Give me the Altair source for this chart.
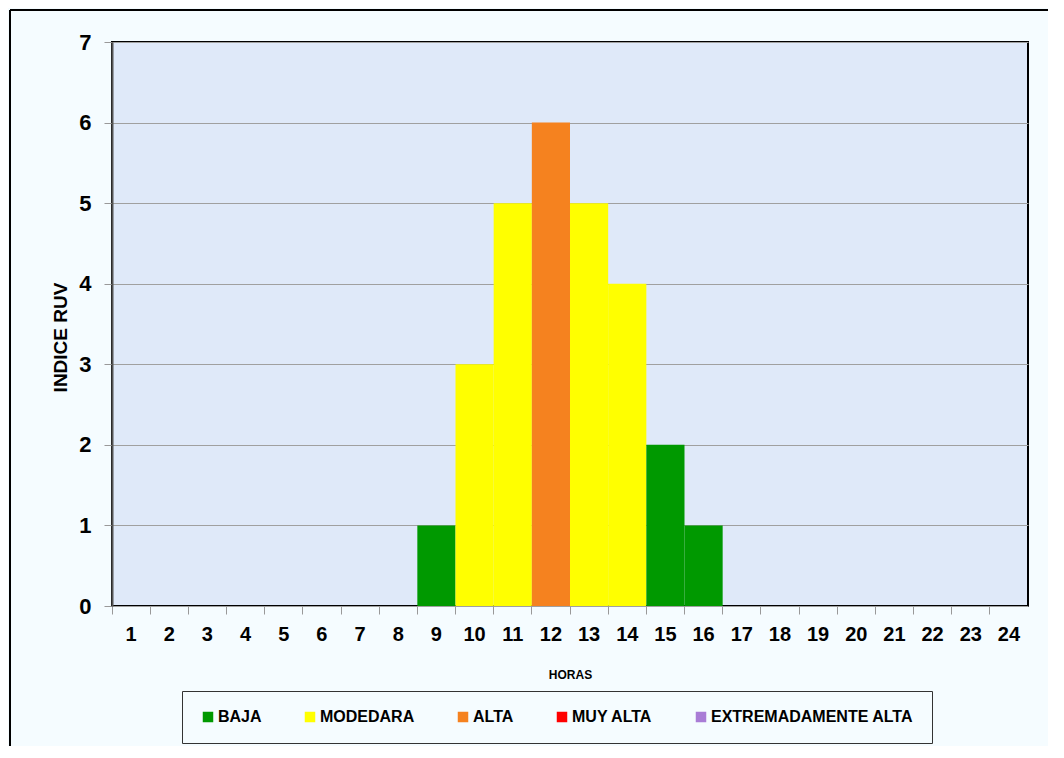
import altair as alt
import pandas as pd

hours = list(range(1, 25))
values = [0, 0, 0, 0, 0, 0, 0, 0, 1, 3, 5, 6, 5, 4, 2, 1, 0, 0, 0, 0, 0, 0, 0, 0]
levels = ["BAJA", "BAJA", "BAJA", "BAJA", "BAJA", "BAJA", "BAJA", "BAJA",
          "BAJA", "MODEDARA", "MODEDARA", "ALTA", "MODEDARA", "MODEDARA", "BAJA", "BAJA",
          "BAJA", "BAJA", "BAJA", "BAJA", "BAJA", "BAJA", "BAJA", "BAJA"]
legend_names = ["BAJA", "MODEDARA", "ALTA", "MUY ALTA", "EXTREMADAMENTE ALTA"]
legend_colors = ["#009900", "#FFFF00", "#F5821F", "#FF0000", "#A97CD6"]

df = pd.DataFrame({"hora": hours, "indice": values, "nivel": levels})

NARROW = "Liberation Sans, Arial, sans-serif"
BOLD = "Liberation Sans, Arial, sans-serif"

bars = alt.Chart(df).mark_bar(strokeWidth=0).encode(
    x=alt.X("hora:O",
            scale=alt.Scale(domain=hours, paddingInner=0, paddingOuter=0),
            axis=alt.Axis(title="HORAS", labelAngle=0, bandPosition=0,
                          labelFont=NARROW, labelFontSize=20, labelFontWeight="bold",
                          labelColor="#000", labelPadding=10, tickSize=8,
                          tickColor="#999", domain=False,
                          titleFont=BOLD, titleFontSize=12, titleFontWeight="bold",
                          titleColor="#000", titlePadding=25)),
    y=alt.Y("indice:Q",
            scale=alt.Scale(domain=[0, 7], nice=False),
            axis=alt.Axis(title="INDICE RUV", values=[0, 1, 2, 3, 4, 5, 6, 7],
                          labelFont=NARROW, labelFontSize=22, labelFontWeight="bold",
                          labelColor="#000", labelPadding=13, tickSize=8,
                          tickColor="#999", gridColor="#A0A0A0", gridWidth=1.2,
                          domainColor="#555", domainWidth=2,
                          titleFont=BOLD, titleFontSize=19, titleFontWeight="bold",
                          titleColor="#000", titlePadding=8, titleY=295)),
    color=alt.Color("nivel:N",
                    scale=alt.Scale(domain=legend_names, range=legend_colors),
                    legend=alt.Legend(title=None, orient="none", legendX=70, legendY=649,
                                      direction="horizontal", columns=5,
                                      symbolType="square", symbolSize=110,
                                      symbolStrokeWidth=0, columnPadding=40,
                                      labelFont=NARROW, labelFontSize=16,
                                      labelFontWeight="bold", labelColor="#000",
                                      labelOffset=2, labelLimit=0, padding=18,
                                      strokeColor="#333")),
)

frame_left = alt.Chart(df).mark_rule(color="#000", strokeWidth=2).encode(
    x=alt.value(-102), y=alt.value(-32), y2=alt.value(760))
frame_top = alt.Chart(df).mark_rule(color="#000", strokeWidth=2).encode(
    x=alt.value(-102), x2=alt.value(1000), y=alt.value(-32))

chart = alt.layer(frame_left, frame_top, bars).properties(
    width=916, height=564,
    autosize=alt.AutoSizeParams(type="none"),
    padding={"left": 104, "top": 34, "right": 20, "bottom": 140},
    background="#F5FCFF",
).configure_view(
    fill="#DFE9F9", stroke="#000", strokeWidth=2
)

chart.save("out.html", embed_options={"renderer": "svg", "actions": False})
